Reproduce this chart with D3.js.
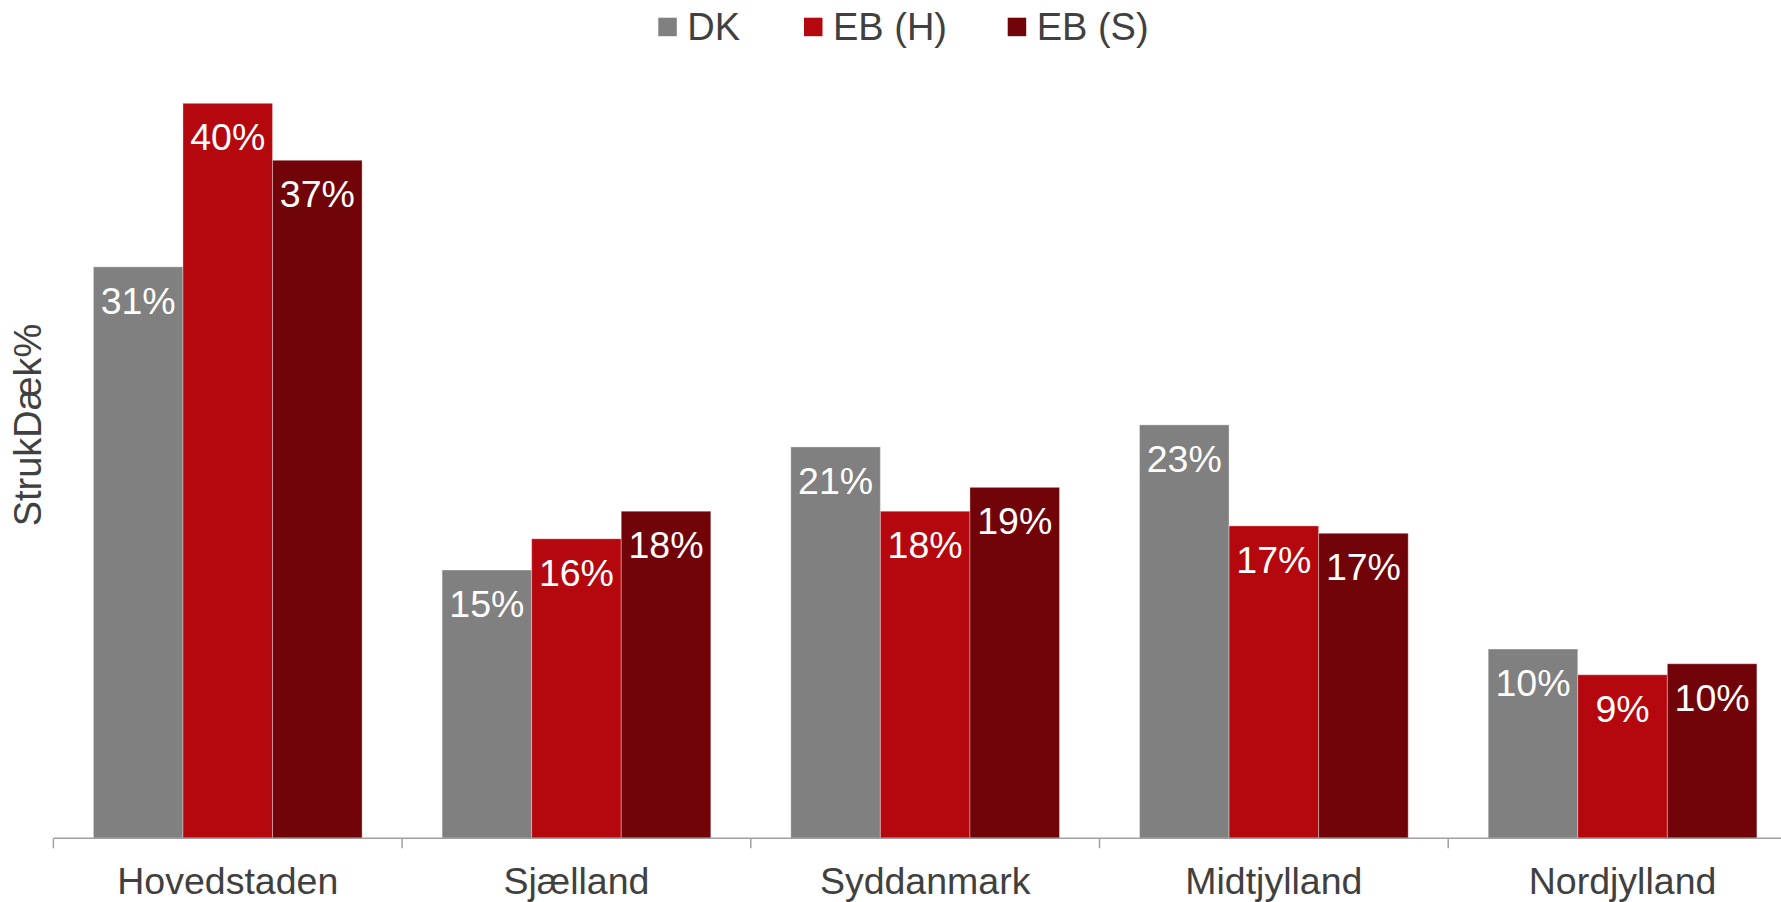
<!DOCTYPE html>
<html>
<head>
<meta charset="utf-8">
<script src="https://cdn.jsdelivr.net/npm/d3@7"></script>
<style>
  html, body { margin: 0; padding: 0; background: #fff; }
  svg { display: block; font-family: Arial, "Liberation Sans", sans-serif; }
</style>
</head>
<body>
<svg id="chart" width="1781" height="902"></svg>
<script>
const categories = ["Hovedstaden", "Sjælland", "Syddanmark", "Midtjylland", "Nordjylland"];
const seriesNames = ["DK", "EB (H)", "EB (S)"];
const dkValues  = [31.1, 14.6, 21.3, 22.5, 10.3];
const ebhValues = [40.0, 16.3, 17.8, 17.0, 8.9];
const ebsValues = [36.9, 17.8, 19.1, 16.6, 9.5];
const seriesColors = ["#808080", "#b5070e", "#710408"];
const yTitle = "StrukDæk%";

const seriesValues = [dkValues, ebhValues, ebsValues];
const svg = d3.select("#chart");

const x0 = d3.scaleBand().domain(categories).range([53.4, 53.4 + 5 * 348.7]).padding(0);
const bw = x0.bandwidth();
const x1 = d3.scaleBand().domain(seriesNames).range([bw * 0.1147, bw * 0.8853]).padding(0);
const y = d3.scaleLinear().domain([0, 40]).range([838.3, 103.3]);

const rows = [];
categories.forEach((c, ci) => {
  seriesNames.forEach((s, si) => rows.push({ c, s, si, v: seriesValues[si][ci] }));
});

// bars
svg.append("g").selectAll("rect").data(rows).join("rect")
  .attr("x", d => x0(d.c) + x1(d.s))
  .attr("y", d => y(d.v))
  .attr("width", x1.bandwidth())
  .attr("height", d => y(0) - y(d.v))
  .attr("fill", d => seriesColors[d.si])
  .attr("stroke", "rgba(255,255,255,0.35)")
  .attr("stroke-width", 1);

// value labels
svg.append("g").selectAll("text").data(rows).join("text")
  .attr("x", d => x0(d.c) + x1(d.s) + x1.bandwidth() / 2)
  .attr("y", d => y(d.v) + 47)
  .attr("text-anchor", "middle")
  .attr("fill", "#ffffff")
  .attr("font-size", 37.5)
  .text(d => Math.round(d.v) + "%");

// x axis
const axisG = svg.append("g");
axisG.append("line")
  .attr("x1", x0.range()[0]).attr("x2", x0.range()[1])
  .attr("y1", y(0)).attr("y2", y(0))
  .attr("stroke", "#a0a0a0").attr("stroke-width", 1.5);
const tickXs = categories.map(c => x0(c)).concat([x0.range()[1]]);
axisG.selectAll("line.tick").data(tickXs).join("line")
  .attr("class", "tick")
  .attr("x1", d => d).attr("x2", d => d)
  .attr("y1", y(0)).attr("y2", y(0) + 10)
  .attr("stroke", "#a0a0a0").attr("stroke-width", 1.5);
axisG.selectAll("text").data(categories).join("text")
  .attr("x", d => x0(d) + bw / 2)
  .attr("y", 894)
  .attr("text-anchor", "middle")
  .attr("fill", "#404040")
  .attr("font-size", 37.5)
  .text(d => d);

// y title
svg.append("text")
  .attr("transform", "translate(41,425) rotate(-90)")
  .attr("text-anchor", "middle")
  .attr("fill", "#404040")
  .attr("font-size", 38)
  .text(yTitle);

// legend
const legendX = d3.scaleOrdinal().domain(seriesNames).range([658.3, 804, 1007.7]);
const lg = svg.append("g").selectAll("g").data(seriesNames).join("g")
  .attr("transform", d => `translate(${legendX(d)},0)`);
lg.append("rect")
  .attr("x", 0).attr("y", 17.7)
  .attr("width", 18.5).attr("height", 18.5)
  .attr("fill", (d, i) => seriesColors[i]);
lg.append("text")
  .attr("x", 29).attr("y", 40)
  .attr("fill", "#404040")
  .attr("font-size", 38)
  .text(d => d);
</script>
</body>
</html>
